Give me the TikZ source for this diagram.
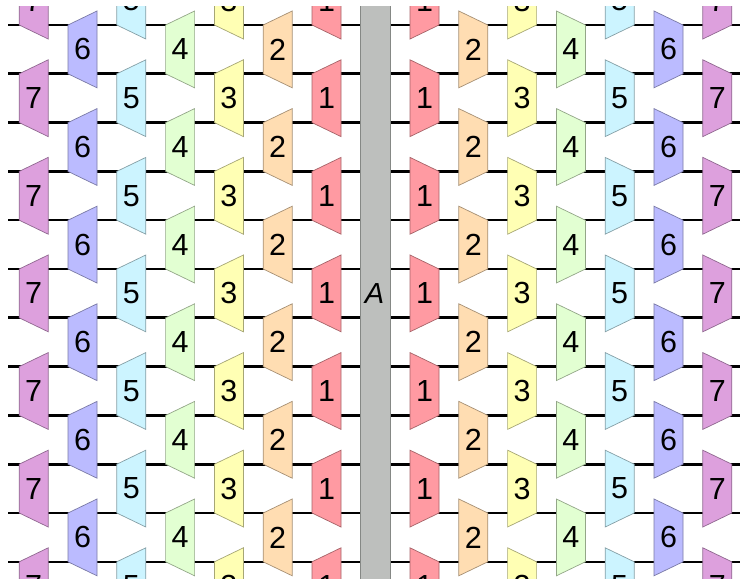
\documentclass[tikz,border=0pt]{standalone}
\usepackage{fontspec}
\setmainfont{Liberation Sans}
\definecolor{c1}{HTML}{FF9AA2}
\definecolor{c2}{HTML}{FFDDB2}
\definecolor{c3}{HTML}{FFFFB4}
\definecolor{c4}{HTML}{E2FFD2}
\definecolor{c5}{HTML}{CCF4FF}
\definecolor{c6}{HTML}{BBBBFF}
\definecolor{c7}{HTML}{DDA0DD}
\definecolor{barfill}{HTML}{BDBFBD}
\definecolor{baredge}{HTML}{858885}
\tikzset{
  wire/.style={line width=2.6pt, black},
  trapbox/.style={line width=0.7pt, line join=miter},
  lbl/.style={inner sep=0pt, font=\fontsize{30.5}{30.5}\selectfont},
  barstyle/.style={fill=barfill, draw=baredge, line width=1pt},
}
\begin{document}
\begin{tikzpicture}[x=1pt,y=-1pt]
\useasboundingbox (0,0) rectangle (740,580);
\begin{scope}
\clip (8,7) rectangle (740,578);
% horizontal wires
\foreach \k in {-1,...,12}{
  \draw[wire] (0,{25+48.8*\k}) -- (760,{25+48.8*\k});
}
% trapezoids
\foreach \i in {1,...,7}{
  \pgfmathtruncatemacro\oddp{mod(\i,2)}
  \pgfmathsetmacro\cxl{326.5-48.8*(\i-1)}
  \pgfmathsetmacro\cxr{751-\cxl}
  \foreach \m in {0,...,6}{
    \pgfmathsetmacro\yt{25+48.8*(2*\m-\oddp)}
    % left side: tall edge on the right
    \filldraw[trapbox, fill=c\i, draw=c\i!65!black]
      ({\cxl-14.5},\yt) -- ({\cxl+14.5},{\yt-14}) -- ({\cxl+14.5},{\yt+48.8+14}) -- ({\cxl-14.5},{\yt+48.8}) -- cycle;
    \node[lbl] (L\i-\m) at (\cxl,{\yt+24.4}) {\i};
    % right side: tall edge on the left
    \filldraw[trapbox, fill=c\i, draw=c\i!65!black]
      ({\cxr+14.5},\yt) -- ({\cxr-14.5},{\yt-14}) -- ({\cxr-14.5},{\yt+48.8+14}) -- ({\cxr+14.5},{\yt+48.8}) -- cycle;
    \node[lbl] (R\i-\m) at (\cxr,{\yt+24.4}) {\i};
  }
}
% central bar
\draw[barstyle] (360,-10) rectangle (390,600);
\node[lbl, font=\fontsize{29}{29}\selectfont\itshape] (A) at (374.5,294) {A};
\end{scope}
\end{tikzpicture}
\end{document}
